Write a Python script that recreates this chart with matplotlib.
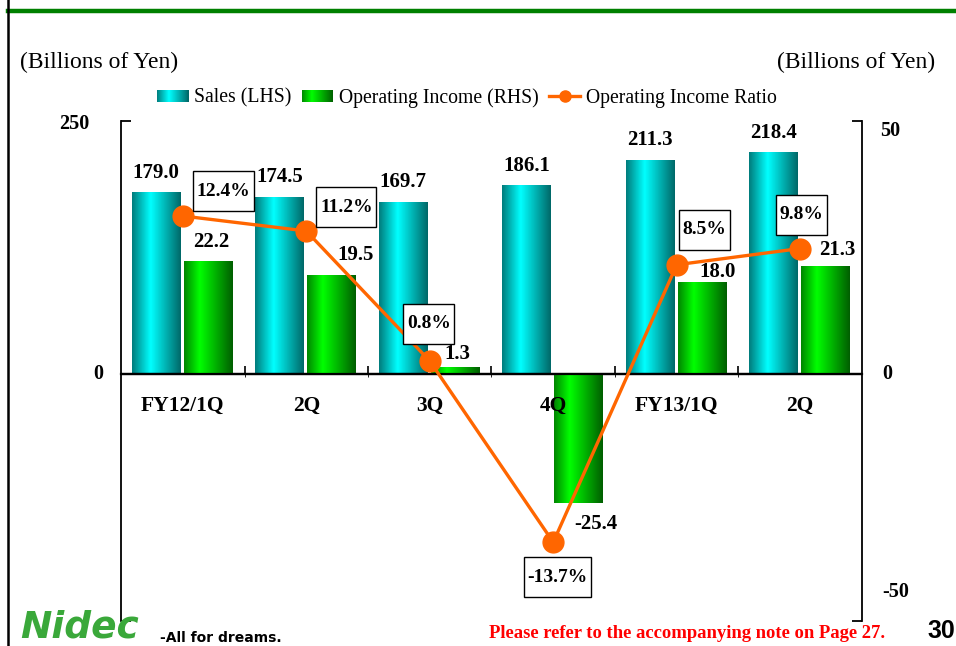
import numpy as np
import matplotlib
matplotlib.use('Agg')
import matplotlib.pyplot as plt
from matplotlib.patches import Rectangle, Patch
from matplotlib.lines import Line2D
from matplotlib.legend_handler import HandlerBase
from matplotlib.transforms import Affine2D, ScaledTranslation

# ---------------- data ----------------
categories = ['FY12/1Q', '2Q', '3Q', '4Q', 'FY13/1Q', '2Q']
sales = [179.0, 174.5, 169.7, 186.1, 211.3, 218.4]          # LHS, billions of yen
op_income = [22.2, 19.5, 1.3, -25.4, 18.0, 21.3]            # RHS, billions of yen
op_ratio = [12.4, 11.2, 0.8, -13.7, 8.5, 9.8]               # %
series_names = ['Sales (LHS)', 'Operating Income (RHS)', 'Operating Income Ratio']

# ---------------- styles ----------------
SERIF = ['Liberation Serif', 'DejaVu Serif']
ORANGE = '#FF6600'
W, H = 956, 646
# label offsets in pixels (dx, dy up)
oi_offsets = [(3, 20), (24, 20), (2, 13), (17, -21), (15, 11), (12, 16)]
ratio_offsets = [(41, 25), (40, 24), (-1, 37), (4, -35), (28, 35), (1, 34)]

def gradient(left, peak, right, n=64, p=0.38):
    t = np.linspace(0, 1, n)
    left, peak, right = (np.array(c) / 255.0 for c in (left, peak, right))
    out = np.empty((n, 3))
    for i, v in enumerate(t):
        if v <= p:
            f = v / p
            out[i] = left + (peak - left) * f
        else:
            f = (v - p) / (1 - p)
            out[i] = peak + (right - peak) * f
    return out

cyan_grad = gradient((0, 125, 125), (0, 255, 255), (0, 105, 105))
green_grad = gradient((0, 135, 0), (0, 255, 0), (0, 95, 0), p=0.32)

fig = plt.figure(figsize=(W / 100, H / 100), dpi=100)

def fx(px):
    return px / W

def fy(py):
    return 1 - py / H

ax_l, ax_r, ax_t, ax_b = 121, 862, 121, 621
ax = fig.add_axes([fx(ax_l), fy(ax_b), (ax_r - ax_l) / W, (ax_b - ax_t) / H])
ax2 = ax.twinx()
ax3 = ax.twinx()

x = np.arange(len(categories))
xlim = (-0.5, len(categories) - 0.5)
y1lim = (-244, 250)
y2lim = (-48.8, 50)
y3lim = (-20.0, 20.0)

bw = 0.395
b1 = ax.bar(x - 0.215, sales, bw, color='#00cccc', zorder=2)
b2 = ax2.bar(x + 0.205, op_income, bw, color='#00cc00', zorder=2)

def paint(axis, bars, grad):
    for r in bars:
        x0, w = r.get_x(), r.get_width()
        y0, h = r.get_y(), r.get_height()
        axis.imshow(grad[np.newaxis, :, :], extent=[x0, x0 + w, min(y0, y0 + h), max(y0, y0 + h)],
                    aspect='auto', interpolation='bilinear', zorder=2.1)

paint(ax, b1, cyan_grad)
paint(ax2, b2, green_grad)

ax.set_xlim(*xlim); ax2.set_xlim(*xlim); ax3.set_xlim(*xlim)
ax.set_ylim(*y1lim); ax2.set_ylim(*y2lim); ax3.set_ylim(*y3lim)

# zero line and spines
ax2.axhline(0, color='black', lw=1.6, zorder=5)
for s in ['top', 'right']:
    ax.spines[s].set_visible(False)
ax.spines['bottom'].set_position(('data', 0))
ax.spines['bottom'].set_linewidth(1.6)
ax.spines['left'].set_linewidth(1.3)
for s in ['top', 'left', 'bottom']:
    ax2.spines[s].set_visible(False)
ax2.spines['right'].set_linewidth(1.3)
for s in ax3.spines.values():
    s.set_visible(False)

# group boundary ticks on the zero line
ax.set_xticks(x)
ax.tick_params(axis='x', which='major', length=0, labelbottom=False)
ax.set_xticks(np.arange(0.5, len(categories) - 0.5, 1.0), minor=True)
ax.tick_params(axis='x', which='minor', direction='in', length=6, width=1.2, color='black')

# category labels on the twin axis so they sit above the bars
ax2.xaxis.set_visible(True)
ax2.xaxis.set_zorder(6)
ax2.spines['bottom'].set_position(('data', 0))
ax2.set_xticks(x)
ax2.set_xticklabels(categories, fontfamily=SERIF, fontweight='bold', fontsize=15.5)
ax2.tick_params(axis='x', which='major', length=0, pad=16, bottom=True, labelbottom=True)
ax2.set_xlim(*xlim)

ax.set_yticks(list(y1lim))
ax.set_yticklabels(['', ''])
ax.tick_params(axis='y', direction='in', length=7, width=1.3)
ax2.set_yticks(list(y2lim))
ax2.set_yticklabels(['', ''])
ax2.tick_params(axis='y', direction='in', length=7, width=1.3)
ax3.set_yticks([])

# axis value labels (placed as in the reference)
tk = dict(fontfamily=SERIF, fontweight='bold', fontsize=14.5, va='center')
fig.text(fx(89), fy(124), '250', ha='right', **tk)
fig.text(fx(103), fy(374), '0', ha='right', **tk)
fig.text(fx(880), fy(131), '50', ha='left', **tk)
fig.text(fx(882), fy(374), '0', ha='left', **tk)
fig.text(fx(882), fy(592), '-50', ha='left', **tk)

# bar value labels
lab = dict(fontfamily=SERIF, fontweight='bold', fontsize=15, ha='center', va='center',
           textcoords='offset points')
for r, v in zip(b1, sales):
    ax.annotate(f'{v:.1f}', (r.get_x() + r.get_width() / 2, v), xytext=(0, 20 * 0.72),
                zorder=6, **lab)
for r, v, (dx, dy) in zip(b2, op_income, oi_offsets):
    ax2.annotate(f'{v:.1f}', (r.get_x() + r.get_width() / 2, v), xytext=(dx * 0.72, dy * 0.72),
                 zorder=6, **lab)

# ratio line
ax3.plot(x, op_ratio, color=ORANGE, lw=2.4, marker='o', ms=15, zorder=3)

texts = []
for xi, v, (dx, dy) in zip(x, op_ratio, ratio_offsets):
    t = ax3.annotate(f'{v:.1f}%', (xi, v), xytext=(dx * 0.72, dy * 0.72), textcoords='offset points',
                     fontfamily=SERIF, fontweight='bold', fontsize=14, ha='center', va='center', zorder=8)
    texts.append((t, xi, v, dx, dy))

fig.canvas.draw()
r = fig.canvas.get_renderer()
for t, xi, v, dx, dy in texts:
    bb = t.get_window_extent(r)
    bw_px = bb.width + 7
    bh_px = 40
    tr = Affine2D() + ScaledTranslation(xi, v, ax3.transData)
    rect = Rectangle((dx - bw_px / 2, dy - bh_px / 2), bw_px, bh_px, transform=tr,
                     facecolor='white', edgecolor='black', lw=1.0, zorder=7)
    ax3.add_artist(rect)

# legend
class GradHandler(HandlerBase):
    def __init__(self, grad):
        super().__init__()
        self.grad = grad

    def create_artists(self, legend, orig_handle, xdescent, ydescent, width, height, fontsize, trans):
        n = len(self.grad)
        arts = []
        for i, c in enumerate(self.grad):
            arts.append(Rectangle((-xdescent + width * i / n, -ydescent), width / n * 1.2, height,
                                  facecolor=c, edgecolor='none', transform=trans))
        return arts

h1 = Patch(facecolor='#00cccc')
h2 = Patch(facecolor='#00cc00')
h3 = Line2D([], [], color=ORANGE, lw=2.4, marker='o', ms=8)
fig.legend([h1, h2, h3], series_names, loc='center', bbox_to_anchor=(fx(467), fy(98)), ncol=3,
           frameon=False, prop=dict(family=SERIF, size=14.2), handlelength=1.6,
           handleheight=0.62, handletextpad=0.3, columnspacing=0.5, borderpad=0,
           handler_map={h1: GradHandler(cyan_grad), h2: GradHandler(green_grad)})

# page decorations
fig.text(fx(20), fy(62), '(Billions of Yen)', ha='left', va='center', fontfamily=SERIF, fontsize=17)
fig.text(fx(935), fy(62), '(Billions of Yen)', ha='right', va='center', fontfamily=SERIF, fontsize=17)
fig.add_artist(Line2D([fx(8), 1], [fy(11), fy(11)], color='#008000', lw=3.2))
fig.add_artist(Line2D([fx(8), fx(8)], [0, 1], color='black', lw=1.8))
fig.text(fx(687), fy(634), 'Please refer to the accompanying note on Page 27.', ha='center', va='center',
         fontfamily=SERIF, fontweight='bold', fontsize=13.4, color='#ff0000')
fig.text(fx(955), fy(631), '30', ha='right', va='center', fontfamily=['Liberation Sans', 'DejaVu Sans'],
         fontsize=18, fontweight='bold')
fig.text(fx(20), fy(645), 'Nidec', ha='left', va='bottom', fontfamily='DejaVu Sans', fontweight='bold',
         fontstyle='italic', fontsize=27, color='#3aa83a')
fig.text(fx(160), fy(638), '-All for dreams.', ha='left', va='center', fontfamily='DejaVu Sans',
         fontweight='bold', fontsize=10, color='black')

fig.savefig('out.png', dpi=100)
